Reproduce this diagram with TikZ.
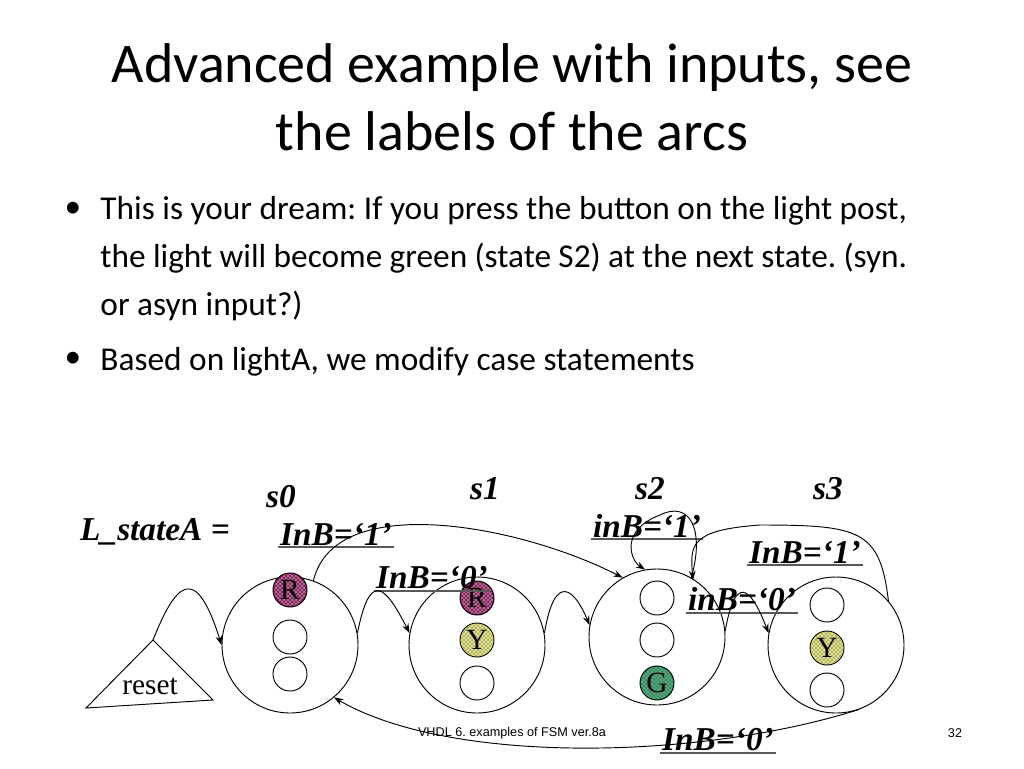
\documentclass[tikz,border=0pt]{standalone}
\usepackage{fontspec}
\setmainfont{Carlito}
\newfontfamily\tms{Liberation Serif}
\newfontfamily\arl{Liberation Sans}
\usetikzlibrary{patterns,arrows.meta}
\definecolor{rcol}{HTML}{9C0A5E}
\definecolor{ycol}{HTML}{F2F266}
\definecolor{gcol}{HTML}{0A9A4E}
\begin{document}
\frenchspacing
\begin{tikzpicture}[x=0.75pt,y=-0.75pt,
  big/.style={draw,circle,minimum size=136*0.75pt,inner sep=0pt},
  lamp/.style={draw,circle,minimum size=34*0.75pt,inner sep=0pt,font=\tms\fontsize{22}{22}\selectfont},
  rl/.style={lamp,fill=rcol},
  yl/.style={lamp,fill=ycol},
  gl/.style={lamp,fill=gcol},
  lab/.style={font=\tms\bfseries\itshape\fontsize{25}{27}\selectfont,inner sep=1pt},
  ulab/.style={lab,anchor=south,append after command={(\tikzlastnode.south west) edge[draw=gray!70!black,thick] (\tikzlastnode.south east)}},
  arr/.style={-{Stealth[length=7pt,width=5pt]}},
  line width=0.7pt]
\useasboundingbox (0,0) rectangle (1024,768);
\node[font=\fontsize{42}{51}\selectfont,align=center] (title) at (512,97) {Advanced example with inputs, see\\the labels of the arcs};
\node[font=\fontsize{25}{36}\selectfont,align=flush left,anchor=north west,text width=605pt,inner sep=0pt] (b1) at (100,196) {This is your dream: If you press the button on the light post, the light will become green (state S2) at the next state. (syn. or asyn input?)};
\node[font=\fontsize{25}{36}\selectfont,anchor=west,inner sep=0pt] (b2) at (100,362) {Based on lightA, we modify case statements};
\node[font=\fontsize{25}{36}\selectfont] (d1) at (73,210) {•};
\node[font=\fontsize{25}{36}\selectfont] (d2) at (73,360) {•};
% states
\node[big] (S0) at (290,645) {};
\node[big] (S1) at (477,645) {};
\node[big] (S2) at (657,637) {};
\node[big] (S3) at (836,645) {};
\node[rl] (r0) at (290,590) {};
\node[lamp] (a0) at (290,637) {};
\node[lamp] (b0) at (290,674) {};
\node[rl] (r1) at (477,598) {};
\node[yl] (y1) at (477,640) {};
\node[lamp] (c1) at (477,683) {};
\node[lamp] (a2) at (657,598) {};
\node[lamp] (b2l) at (657,640) {};
\node[gl] (g2) at (657,683) {};
\node[lamp] (a3) at (827,605) {};
\node[yl] (y3) at (827,648) {};
\node[lamp] (c3) at (827,690) {};
\foreach \n/\t in {r0/R,r1/R,y1/Y,g2/G,y3/Y}{\fill[pattern=crosshatch,pattern color=black!40] (\n) circle (16);\node[font=\tms\fontsize{22}{22}\selectfont] at (\n) {\t};}
% reset
\draw (86,708) -- (213,700) -- (153,640) -- cycle;
\coordinate (ra) at (153,640);
\node[font=\tms\fontsize{22}{22}\selectfont] (reset) at (150,686) {reset};
% labels
\node[lab] (ls0) at (281,497) {s0};
\node[lab] (ls1) at (485,489) {s1};
\node[lab] (ls2) at (650,489) {s2};
\node[lab] (ls3) at (828,489) {s3};
\node[lab] (lsa) at (155,532) {L\_stateA =};
\node[ulab] (l1) at (336,547) {InB=‘1’};
\node[ulab] (l2) at (432,591) {InB=‘0’};
\node[ulab] (l3) at (647,539) {inB=‘1’};
\node[ulab] (l4) at (805,565) {InB=‘1’};
\node[ulab] (l5) at (742,613) {inB=‘0’};
\node[ulab] (l6) at (718,753) {InB=‘0’};
% arcs
\draw[arr] (ra) .. controls (175,585) and (195,560) .. (S0.west);
\draw[arr] (S0.70) .. controls (335,490) and (520,525) .. (S2.120);
\draw[arr] (S0.10) .. controls (370,570) and (385,585) .. (S1.170);
\draw[arr] (S1.10) .. controls (555,570) and (575,590) .. (S2.170);
\draw[arr] (S2.60) .. controls (705,530) and (690,500) .. (660,515) .. controls (620,530) and (630,560) .. (S2.100);
\draw[arr] (S3.40) .. controls (880,530) and (860,525) .. (760,525) .. controls (690,530) and (690,545) .. (693,580);
\draw[arr] (S2.5) .. controls (735,575) and (750,585) .. (S3.170);
\draw[arr] (S3.290) .. controls (700,760) and (450,765) .. (S0.310);
\node[font=\arl\fontsize{9.5}{10}\selectfont] (foot) at (512,733) {VHDL 6. examples of FSM ver.8a};
\node[font=\arl\fontsize{9.5}{10}\selectfont] (pg) at (955,733) {32};
\end{tikzpicture}
\end{document}
